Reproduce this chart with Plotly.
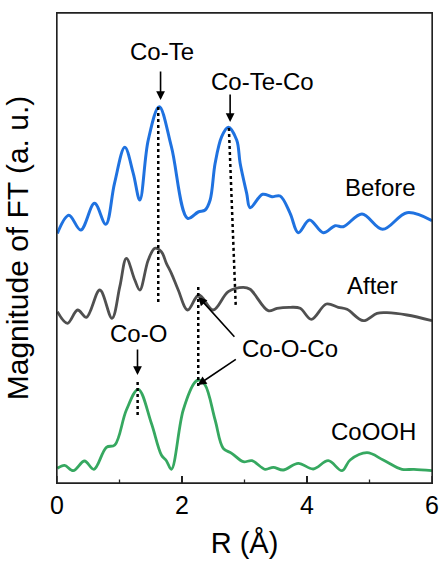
import plotly.graph_objects as go

# ---- data (R in Å, magnitude in arbitrary units, curves already offset) ----
before_r = [0.006, 0.19, 0.38, 0.60, 0.78, 0.92, 1.085, 1.22, 1.325, 1.46, 1.635, 1.83, 2.09, 2.26, 2.37,
            2.45, 2.53, 2.635, 2.74, 2.875, 2.93, 3.035, 3.09, 3.29, 3.44, 3.57, 3.73, 3.86, 4.04, 4.26,
            4.45, 4.58, 4.88, 5.21, 5.60, 6.0]
before_y = [249.7, 267.7, 253, 279.7, 258.7, 299.7, 335.7, 309.7, 283, 343, 376.3, 336.3, 264.7, 271, 273,
            283, 319.7, 346.3, 355.7, 343, 319.7, 289.7, 275.3, 288.7, 286.3, 287, 269.7, 250.3, 263, 250.3,
            257.3, 256.3, 269, 253.7, 270.3, 262.3]

after_r = [0.006, 0.167, 0.33, 0.47, 0.685, 0.88, 1.005, 1.11, 1.245, 1.325, 1.46, 1.565, 1.67, 1.75, 1.83,
           1.94, 2.09, 2.27, 2.50, 2.74, 2.98, 3.09, 3.38, 3.52, 3.73, 3.89, 4.07, 4.31, 4.50, 4.64,
           4.90, 5.12, 5.28, 5.60, 6.0]
after_y = [171.3, 159.7, 173, 165.7, 193, 164.7, 196.3, 224.7, 203, 193, 223, 234.7, 231.3, 219.7, 209.7,
           193, 173, 188, 173, 191.3, 195.7, 193.7, 172.3, 174.7, 175.7, 174.7, 163.7, 179, 175.7, 173.7,
           162.3, 169.7, 170.3, 168, 162.3]

cooh_r = [0.006, 0.12, 0.26, 0.44, 0.59, 0.79, 0.925, 1.11, 1.30, 1.51, 1.67, 1.75, 1.83, 2.02, 2.21, 2.27,
          2.37, 2.53, 2.66, 2.795, 2.98, 3.12, 3.33, 3.46, 3.62, 3.86, 4.10, 4.34, 4.56, 4.69, 4.96,
          5.22, 5.52, 5.71, 6.0]
cooh_y = [14.7, 17.7, 12.3, 22, 13.7, 35.7, 38, 73, 93.7, 59.7, 28, 22.3, 13.7, 73, 101, 103,
          98, 63, 34.7, 29.7, 21.3, 22.3, 13.7, 15.7, 13, 19.7, 14, 22.3, 12.3, 23, 30.3,
          23, 13.7, 13.7, 12.3]

series_names = ["Before", "After", "CoOOH"]
series_colors = ["#1f72e0", "#505050", "#36a860"]

# guide lines (dotted): (r_top, y_top, r_bottom, y_bottom)
guide_lines = [
    (1.62, 376, 1.62, 180),    # Co-Te
    (2.75, 355, 2.86, 177),    # Co-Te-Co
    (2.26, 196, 2.26, 95),     # Co-O-Co
    (1.29, 101, 1.29, 68),     # Co-O
]

# labelled arrows: (text, text_r, text_y, tail_r, tail_y, tip_r, tip_y)
arrow_labels = [
    ("Co-Te", 1.673, 431.3, 1.657, 413, 1.657, 383),
    ("Co-Te-Co", 3.29, 401.7, 2.77, 390, 2.77, 361),
    ("Co-O", 1.31, 149.7, 1.288, 135, 1.288, 108),
]
coco_text = ("Co-O-Co", 3.72, 134.7)
coco_arrows = [(2.86, 144.7, 2.26, 186.3), (2.885, 124.7, 2.25, 98)]

series_labels = [("Before", 5.18, 296), ("After", 5.05, 198), ("CoOOH", 5.06, 51.3)]

xticks = [0, 2, 4, 6]
xminor = [1, 3, 5]

FONT = "Liberation Sans, Arial, sans-serif"
SOLID = "2000px,0px"   # dash pattern that draws a continuous stroke
FRAME = "#222222"

fig = go.Figure()
for name, rr, yy, col, w in zip(series_names, [before_r, after_r, cooh_r], [before_y, after_y, cooh_y],
                                series_colors, [3, 2.8, 2.8]):
    fig.add_trace(go.Scatter(x=rr, y=yy, mode="lines", name=name,
                             line=dict(color=col, width=w, shape="spline", smoothing=1.0)))

for (x0, y0, x1, y1) in guide_lines:
    fig.add_shape(type="line", x0=x0, y0=y0, x1=x1, y1=y1, xref="x", yref="y",
                  line=dict(color="black", width=2.5, dash="dot"))

# frame drawn as four line shapes (paper coordinates = plot area)
for (fx0, fy0, fx1, fy1) in [(0, 0, 1, 0), (0, 1, 1, 1), (0, 0, 0, 1), (1, 0, 1, 1)]:
    fig.add_shape(type="line", xref="paper", yref="paper", x0=fx0, y0=fy0, x1=fx1, y1=fy1,
                  line=dict(color=FRAME, width=1.3, dash=SOLID), layer="above")

# inside tick marks on the bottom axis
for tv, tl in [(t, 7) for t in xticks] + [(t, 3.5) for t in xminor]:
    fig.add_shape(type="line", xref="x", yref="paper", ysizemode="pixel", yanchor=0,
                  x0=tv, x1=tv, y0=0, y1=tl,
                  line=dict(color=FRAME, width=1.3, dash=SOLID), layer="above")

for (txt, tr, ty, ar, ay, hr, hy) in arrow_labels:
    fig.add_annotation(x=tr, y=ty, text=txt, showarrow=False, font=dict(size=24, color="black", family=FONT))
    fig.add_annotation(x=hr, y=hy, ax=ar, ay=ay, axref="x", ayref="y", xref="x", yref="y", text="",
                       showarrow=True, arrowhead=2, arrowsize=1.1, arrowwidth=1.6, arrowcolor="black")

fig.add_annotation(x=coco_text[1], y=coco_text[2], text=coco_text[0], showarrow=False,
                   font=dict(size=24, color="black", family=FONT))
for (ar, ay, hr, hy) in coco_arrows:
    fig.add_annotation(x=hr, y=hy, ax=ar, ay=ay, axref="x", ayref="y", xref="x", yref="y", text="",
                       showarrow=True, arrowhead=2, arrowsize=1.1, arrowwidth=1.6, arrowcolor="black")

for (txt, tr, ty) in series_labels:
    fig.add_annotation(x=tr, y=ty, text=txt, showarrow=False, font=dict(size=24, color="black", family=FONT))

fig.update_layout(
    width=439, height=563,
    margin=dict(l=57, r=7, t=13, b=80, autoexpand=False),
    paper_bgcolor="white", plot_bgcolor="white",
    showlegend=False,
    font=dict(family=FONT, color="black"),
)
fig.update_xaxes(range=[0, 6], tickvals=xticks, ticktext=[str(t) for t in xticks], automargin=False,
                 ticks="inside", ticklen=7, tickwidth=1.3, tickcolor=FRAME,
                 minor=dict(ticks="inside", ticklen=3.5, tickvals=xminor, tickcolor=FRAME, tickwidth=1.3),
                 showline=True, linecolor=FRAME, linewidth=1.3, mirror=True,
                 showgrid=False, zeroline=False,
                 tickfont=dict(size=25, family=FONT, color="black"),
                 title=dict(text="R (Å)", font=dict(size=29, family=FONT, color="black"), standoff=14))
fig.update_yaxes(range=[0, 470], showticklabels=False, ticks="", automargin=False,
                 showline=True, linecolor=FRAME, linewidth=1.3, mirror=True,
                 showgrid=False, zeroline=False,
                 title=dict(text="Magnitude of FT (a. u.)", font=dict(size=30, family=FONT, color="black"),
                            standoff=18))

fig.write_html("out.html", config={"displayModeBar": False, "staticPlot": True})

# remove default page margin so the figure sits at the window's top-left corner
with open("out.html", "r", encoding="utf-8") as fh:
    html = fh.read()
html = html.replace("<head>", "<head><style>html,body{margin:0;padding:0;overflow:hidden;}</style>", 1)
with open("out.html", "w", encoding="utf-8") as fh:
    fh.write(html)
